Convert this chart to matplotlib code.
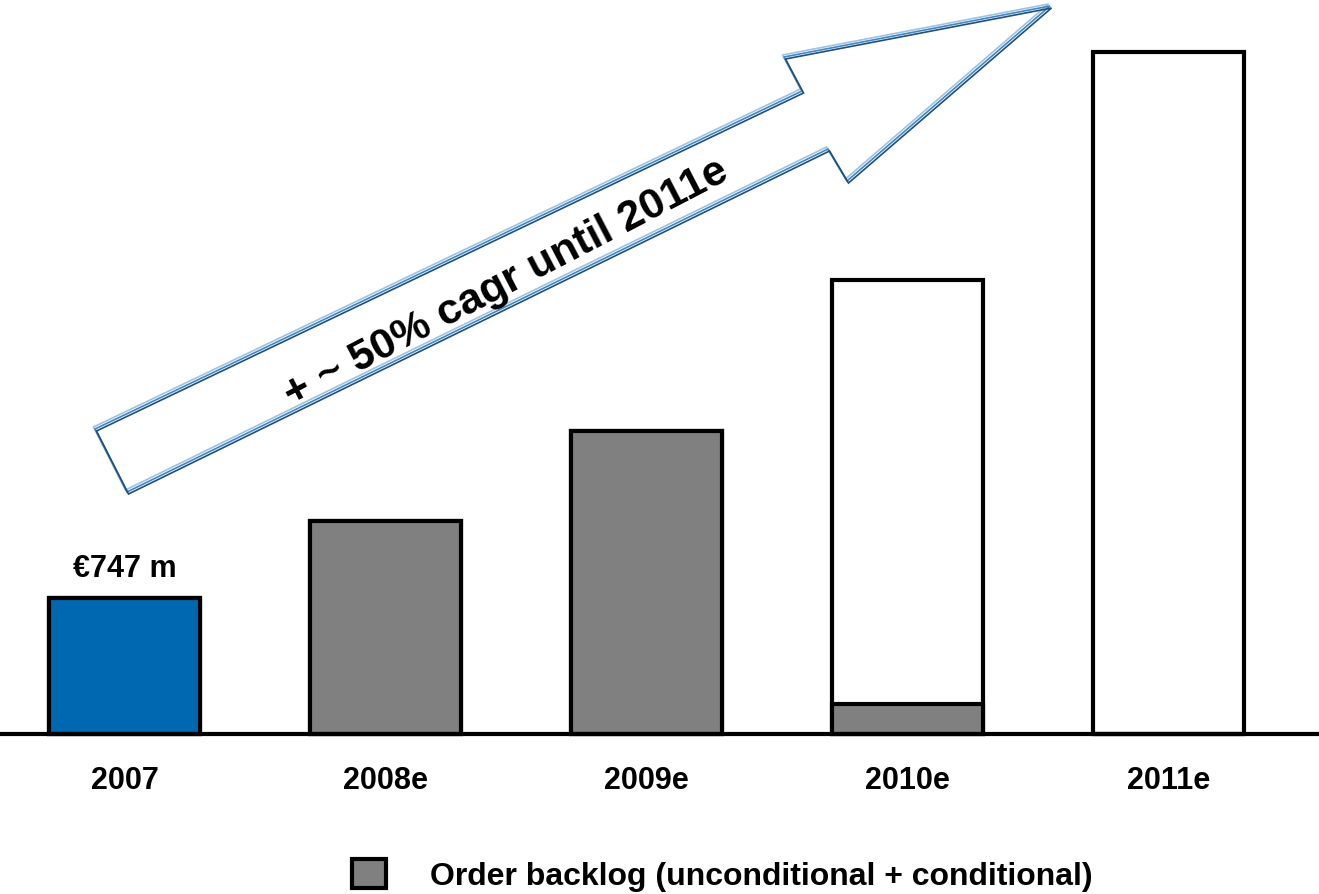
import numpy as np
import matplotlib
matplotlib.use('Agg')
import matplotlib.pyplot as plt
from matplotlib.patches import Polygon, Patch

plt.rcParams['font.family'] = ['Liberation Sans', 'DejaVu Sans']
plt.rcParams['font.weight'] = 'bold'

# data (EUR m)
years = ['2007', '2008e', '2009e', '2010e', '2011e']
backlog = [747, 1170, 1664, 165, 0]       # grey / blue part
total = [747, 1170, 1664, 2494, 3746]     # full bar height
colors = ['#0068b0', '#808080', '#808080', '#808080', '#808080']
first_label = '€747 m'
arrow_text = '+ ~ 50% cagr until 2011e'
legend_text = 'Order backlog (unconditional + conditional)'

W, H = 1319, 895
fig = plt.figure(figsize=(W / 100, H / 100), dpi=100)
ax = fig.add_axes([0, 160 / H, 1, 728.6 / H])

x = np.arange(len(years))
bw = 0.58
# outer (white) bars for totals, then filled backlog part
ax.bar(x, total, width=bw, color='white', edgecolor='black', linewidth=3, zorder=2, clip_on=False)
ax.bar(x, backlog, width=bw, color=colors, edgecolor='black', linewidth=3, zorder=3, clip_on=False)

ax.set_xlim(-124.5 / 261, (W - 124.5) / 261)
ax.set_ylim(0, 4000)
ax.axhline(0, color='black', linewidth=3, zorder=4, clip_on=False)
for s in ax.spines.values():
    s.set_visible(False)
ax.set_yticks([])
ax.set_xticks(x)
ax.set_xticklabels(years, fontsize=22, fontweight='bold')
ax.tick_params(axis='x', length=0, pad=22)

ax.text(x[0], total[0] + 80, first_label, ha='center', va='bottom',
        fontsize=22, fontweight='bold')

# big hollow arrow (pixel coords from top-left)
arrow_px = [(95, 430), (802, 92), (784, 58), (1050, 7), (847, 182), (828, 150), (127, 493)]
for dx, dy, col in [(-1.5, -2, '#9cc3e4'), (0, 0, '#3f86c4'), (1.5, 2, '#1f4f7a')]:
    pts = [((px + dx) / W, 1 - (py + dy) / H) for px, py in arrow_px]
    fig.patches.append(Polygon(pts, closed=True, fill=False, edgecolor=col,
                               linewidth=1.2, transform=fig.transFigure))

fig.text(506 / W, 1 - 283 / H, arrow_text, rotation=27.5, ha='center', va='center',
         rotation_mode='anchor', fontsize=31, fontweight='bold')

fig.legend(handles=[Patch(facecolor='#808080', edgecolor='black', linewidth=3)],
           labels=[legend_text], loc='center left', bbox_to_anchor=(336 / W, 1 - 876 / H),
           frameon=False, prop={'size': 23, 'weight': 'bold'},
           handlelength=1.05, handleheight=1.05, handletextpad=1.4, borderpad=0)

fig.savefig('out.png', dpi=100)
